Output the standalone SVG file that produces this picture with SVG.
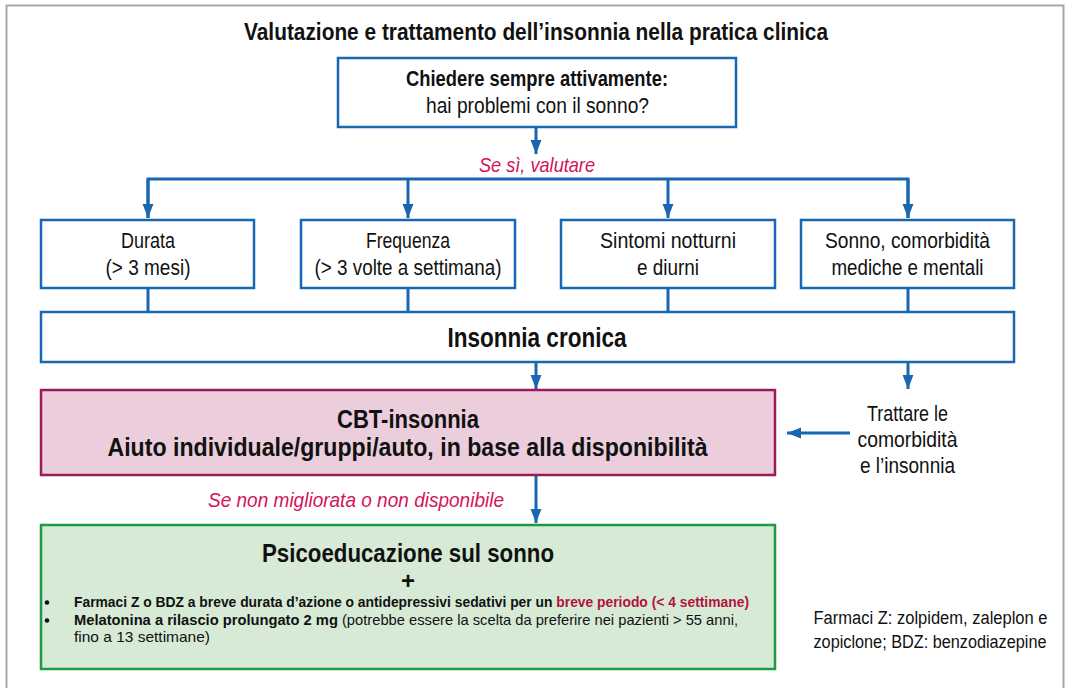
<svg xmlns="http://www.w3.org/2000/svg" width="1066" height="688" viewBox="0 0 1066 688">
<defs>
<marker id="ah" markerUnits="userSpaceOnUse" markerWidth="14" markerHeight="20" refX="18" refY="7" viewBox="0 0 18 14" orient="auto">
<path d="M0,0 L18,7 L0,14 Z" fill="#1867b2"/>
</marker>
<style>
text{font-family:"Liberation Sans",Arial,sans-serif;fill:#111;}
.b{font-weight:bold;}
.t{font-size:22px;text-anchor:middle;}
.lab{font-size:21px;font-style:italic;fill:#d2145a;text-anchor:middle;}
.box{fill:#fff;stroke:#1867b2;stroke-width:2.5;}
.cn{fill:none;stroke:#1867b2;stroke-width:3;}
.ar{fill:none;stroke:#1867b2;stroke-width:3;marker-end:url(#ah);}
.bul{fill:#111;}
</style>
</defs>
<rect x="0" y="0" width="1066" height="688" fill="#fff"/>
<path d="M6.5,700 V5.5 H1063.5 V700" fill="none" stroke="#a8a8a8" stroke-width="2"/>
<text x="536" y="40" class="b" font-size="24" text-anchor="middle" textLength="584" lengthAdjust="spacingAndGlyphs">Valutazione e trattamento dell’insonnia nella pratica clinica</text>

<g id="connectors">
<path class="ar" d="M536,127 V154"/>
<path class="cn" d="M148,218 V179 H908 V218"/>
<path class="ar" d="M148,179 V218"/>
<path class="ar" d="M408,179 V218"/>
<path class="ar" d="M668,179 V218"/>
<path class="ar" d="M908,179 V218"/>
<path class="cn" d="M148,288 V312 M408,288 V312 M668,288 V312 M908,288 V312"/>
<path class="ar" d="M536,362 V389"/>
<path class="ar" d="M908,362 V389"/>
<path class="ar" d="M850,433 H787"/>
<path class="ar" d="M536,475 V523"/>
</g>
<text x="537" y="172" class="lab" textLength="116" lengthAdjust="spacingAndGlyphs">Se sì, valutare</text>
<text x="356" y="507" class="lab" textLength="296" lengthAdjust="spacingAndGlyphs">Se non migliorata o non disponibile</text>

<g id="ask">
<rect class="box" x="338" y="58" width="398" height="69"/>
<text x="537" y="86" class="t b" textLength="262" lengthAdjust="spacingAndGlyphs">Chiedere sempre attivamente:</text>
<text x="537.5" y="113" class="t" textLength="223" lengthAdjust="spacingAndGlyphs">hai problemi con il sonno?</text>
</g>

<g id="durata">
<rect class="box" x="41" y="220" width="213" height="68"/>
<text x="148" y="248" class="t" textLength="54" lengthAdjust="spacingAndGlyphs">Durata</text>
<text x="148" y="275" class="t" textLength="85" lengthAdjust="spacingAndGlyphs">(&gt; 3 mesi)</text>
</g>
<g id="frequenza">
<rect class="box" x="301" y="220" width="214" height="68"/>
<text x="408" y="248" class="t" textLength="84" lengthAdjust="spacingAndGlyphs">Frequenza</text>
<text x="408" y="275" class="t" textLength="187" lengthAdjust="spacingAndGlyphs">(&gt; 3 volte a settimana)</text>
</g>
<g id="sintomi">
<rect class="box" x="561" y="220" width="214" height="68"/>
<text x="668" y="248" class="t" textLength="136" lengthAdjust="spacingAndGlyphs">Sintomi notturni</text>
<text x="668" y="275" class="t" textLength="62" lengthAdjust="spacingAndGlyphs">e diurni</text>
</g>
<g id="sonno">
<rect class="box" x="801" y="220" width="213" height="68"/>
<text x="907.5" y="248" class="t" textLength="165" lengthAdjust="spacingAndGlyphs">Sonno, comorbidità</text>
<text x="907.5" y="275" class="t" textLength="152" lengthAdjust="spacingAndGlyphs">mediche e mentali</text>
</g>

<g id="insonnia">
<rect class="box" x="41" y="312" width="973" height="50"/>
<text x="537" y="347" class="b" font-size="27" text-anchor="middle" textLength="179" lengthAdjust="spacingAndGlyphs">Insonnia cronica</text>
</g>

<g id="cbt">
<rect x="41" y="390" width="734" height="85" fill="#ebcddc" stroke="#9b1a58" stroke-width="2.5"/>
<text x="408" y="428" class="b" font-size="26" text-anchor="middle" textLength="142" lengthAdjust="spacingAndGlyphs">CBT-insonnia</text>
<text x="407.5" y="456" class="b" font-size="26" text-anchor="middle" textLength="600" lengthAdjust="spacingAndGlyphs">Aiuto individuale/gruppi/auto, in base alla disponibilità</text>
</g>

<g id="trattare">
<text x="907.5" y="421" class="t" font-size="21" textLength="81" lengthAdjust="spacingAndGlyphs">Trattare le</text>
<text x="907.5" y="447" class="t" font-size="21" textLength="100" lengthAdjust="spacingAndGlyphs">comorbidità</text>
<text x="907.5" y="473" class="t" font-size="21" textLength="95" lengthAdjust="spacingAndGlyphs">e l’insonnia</text>
</g>

<g id="psico">
<rect x="41" y="525" width="734" height="144" fill="#d6ead6" stroke="#1c9a48" stroke-width="2.5"/>
<text x="408" y="562" class="b" font-size="25" text-anchor="middle" textLength="292" lengthAdjust="spacingAndGlyphs">Psicoeducazione sul sonno</text>
<text x="408" y="589" class="b" font-size="24" text-anchor="middle">+</text>
<circle class="bul" cx="47" cy="602.5" r="2.3"/>
<circle class="bul" cx="47" cy="620.5" r="2.3"/>
<text x="74" y="607" class="b" font-size="15" textLength="675" lengthAdjust="spacingAndGlyphs">Farmaci Z o BDZ a breve durata d’azione o antidepressivi sedativi per un <tspan fill="#b3123f">breve periodo (&lt; 4 settimane)</tspan></text>
<text x="74" y="625" font-size="15" textLength="664" lengthAdjust="spacingAndGlyphs"><tspan class="b">Melatonina a rilascio prolungato 2 mg</tspan> (potrebbe essere la scelta da preferire nei pazienti &gt; 55 anni,</text>
<text x="74" y="642" font-size="15" textLength="136" lengthAdjust="spacingAndGlyphs">fino a 13 settimane)</text>
</g>

<g id="footnote">
<text x="930.5" y="624" font-size="18" text-anchor="middle" textLength="234" lengthAdjust="spacingAndGlyphs" fill="#222">Farmaci Z: zolpidem, zaleplon e</text>
<text x="930" y="648" font-size="18" text-anchor="middle" textLength="233" lengthAdjust="spacingAndGlyphs" fill="#222">zopiclone; BDZ: benzodiazepine</text>
</g>
</svg>
